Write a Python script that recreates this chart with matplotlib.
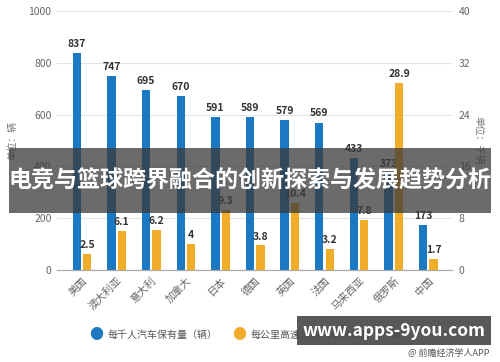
import numpy as np
import matplotlib
matplotlib.use("Agg")
import matplotlib.pyplot as plt
from matplotlib.patches import Rectangle

plt.rcParams['font.family'] = ['Noto Sans CJK SC', 'DejaVu Sans']

countries = ['美国', '澳大利亚', '意大利', '加拿大', '日本', '德国', '英国', '法国', '马来西亚', '俄罗斯', '中国']
cars_per_1000 = [837, 747, 695, 670, 591, 589, 579, 569, 433, 373, 173]
cars_per_km = [2.5, 6.1, 6.2, 4, 9.3, 3.8, 10.4, 3.2, 7.8, 28.9, 1.7]
left_ticks = [0, 200, 400, 600, 800, 1000]
right_ticks = [0, 8, 16, 24, 32, 40]

blue = '#1b78c2'
yellow = '#efad29'
grey = '#777777'

fig = plt.figure(figsize=(5, 3.62), dpi=100)
ax = fig.add_axes([0.114, 0.254, 0.79, 0.716])
ax2 = ax.twinx()

x = np.arange(len(countries))
w = 0.24
off = 0.15
ax.bar(x - off, cars_per_1000, w, color=blue, zorder=3)
ax2.bar(x + off, cars_per_km, w, color=yellow, zorder=3)

for xi, v in zip(x, cars_per_1000):
    ax.text(xi - off, v + 16, str(v), ha='center', va='bottom', fontsize=7.5,
            fontweight='bold', color='#333333', zorder=4)
for xi, v in zip(x, cars_per_km):
    ax2.text(xi + off, v + 0.6, f'{v:g}', ha='center', va='bottom', fontsize=7.5,
             fontweight='bold', color='#333333', zorder=4)

ax.set_ylim(0, 1000)
ax2.set_ylim(0, 40)
ax.set_xlim(-0.72, 10.68)
ax.set_yticks(left_ticks)
ax2.set_yticks(right_ticks)
ax.grid(axis='y', color='#e3e3e3', linewidth=0.8, zorder=0)
ax.set_xticks(x)
ax.set_xticklabels(countries, rotation=45, ha='right', rotation_mode='anchor',
                   fontsize=7.5, color='#555555')
for a in (ax, ax2):
    for s in ['top', 'left', 'right']:
        a.spines[s].set_visible(False)
    a.spines['bottom'].set_color('#aaaaaa')
    a.tick_params(length=0, labelsize=7.5, labelcolor='#666666')
ax.tick_params(axis='y', pad=4)
ax2.tick_params(axis='y', pad=5)
ax.tick_params(axis='x', pad=4)
ax.set_ylabel('单位：辆', fontsize=7, color=grey)
ax.yaxis.set_label_coords(-0.101, 0.5)
ax2.set_ylabel('单位：千辆', fontsize=7, color=grey, rotation=270, va='center')
ax2.yaxis.set_label_coords(1.068, 0.5)

# legend
fig.text(0.192, 0.075, '●', color=blue, fontsize=10, ha='center', va='center')
fig.text(0.216, 0.075, '每千人汽车保有量（辆）', color='#555555', fontsize=7.2, va='center')
fig.text(0.478, 0.075, '●', color=yellow, fontsize=10, ha='center', va='center')
fig.text(0.502, 0.075, '每公里高速公路汽车保有量（千辆）', color='#555555', fontsize=7.2, va='center')

# title banner
fig.patches.append(Rectangle((0.018, 1 - 213 / 362), 0.964, 65 / 362, transform=fig.transFigure,
                             facecolor='#3a3a3a', alpha=0.75, zorder=10))
fig.text(0.5, 1 - 181 / 362, '电竞与篮球跨界融合的创新探索与发展趋势分析', color='white',
         fontsize=16.6, fontweight='bold', ha='center', va='center', zorder=11)

# bottom banner
fig.patches.append(Rectangle((297 / 500, 1 - 345 / 362), 194 / 500, 29 / 362, transform=fig.transFigure,
                             facecolor='#4a4a4a', alpha=0.92, zorder=10))
fig.text(394 / 500, 1 - 331 / 362, 'www.apps-9you.com', color='white', fontsize=12.5,
         fontweight='bold', ha='center', va='center', zorder=11)
fig.text(0.978, 1 - 353 / 362, '@ 前瞻经济学人APP', color='#555555', fontsize=6.5,
         ha='right', va='center', zorder=12)

fig.savefig('out.png', dpi=100)
